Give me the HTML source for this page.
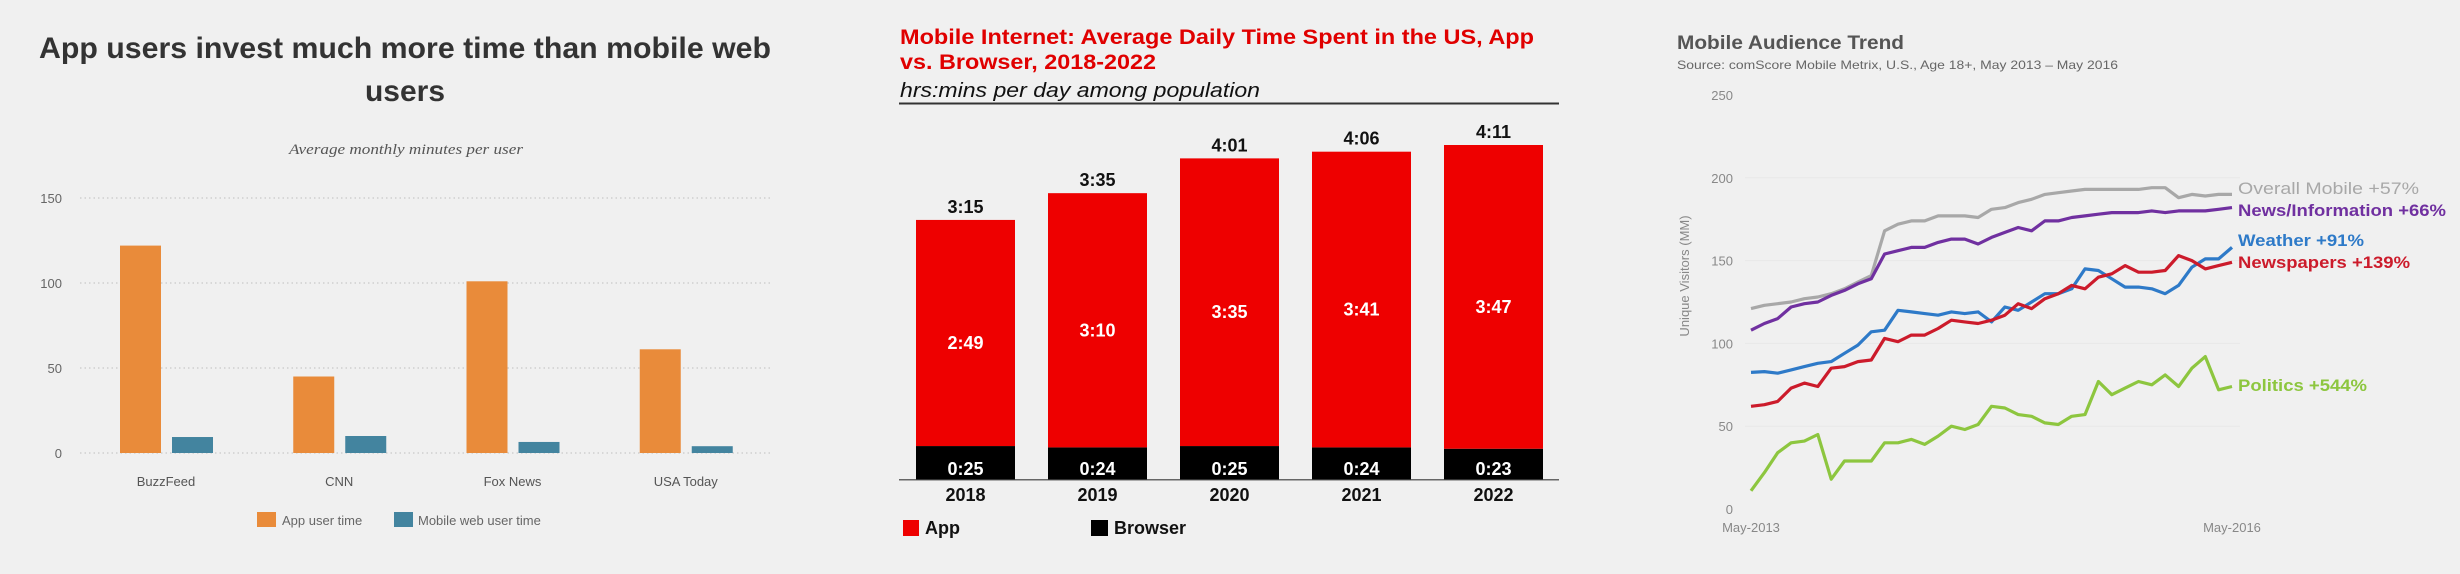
<!DOCTYPE html>
<html><head><meta charset="utf-8"><style>
html,body{margin:0;padding:0;background:#f0f0f0;}
svg{display:block;font-family:"Liberation Sans",sans-serif;}
</style></head><body>
<svg id="root" width="2460" height="574" viewBox="0 0 2460 574" xmlns="http://www.w3.org/2000/svg">
<rect width="2460" height="574" fill="#f0f0f0"/>
<!-- Chart 1 -->
<g id="c1">
<text x="405" y="58" text-anchor="middle" font-size="30" font-weight="bold" fill="#333" textLength="732" lengthAdjust="spacingAndGlyphs">App users invest much more time than mobile web</text>
<text x="405" y="101" text-anchor="middle" font-size="30" font-weight="bold" fill="#333" textLength="80" lengthAdjust="spacingAndGlyphs">users</text>
<text x="406" y="154" text-anchor="middle" font-size="15" font-style="italic" fill="#555" font-family="Liberation Serif, serif" textLength="234" lengthAdjust="spacingAndGlyphs">Average monthly minutes per user</text>
<rect x="257" y="512" width="19" height="15" fill="#e98b3a"/>
<text x="282" y="525" font-size="13" fill="#666">App user time</text>
<rect x="394" y="512" width="19" height="15" fill="#43849f"/>
<text x="418" y="525" font-size="13" fill="#666">Mobile web user time</text>
</g>
<!-- Chart 2 -->
<g id="c2">
<text x="900" y="44" font-size="21" font-weight="bold" fill="#e00000" textLength="634" lengthAdjust="spacingAndGlyphs">Mobile Internet: Average Daily Time Spent in the US, App</text>
<text x="900" y="69" font-size="21" font-weight="bold" fill="#e00000" textLength="256" lengthAdjust="spacingAndGlyphs">vs. Browser, 2018-2022</text>
<text x="900" y="97" font-size="20" font-style="italic" fill="#111" textLength="360" lengthAdjust="spacingAndGlyphs">hrs:mins per day among population</text>
<rect x="899" y="102.5" width="660" height="2" fill="#333"/>
<rect x="899" y="479" width="660" height="1.5" fill="#666"/>
<rect x="903" y="520" width="16" height="16" fill="#ee0000"/>
<text x="925" y="534" font-size="18" font-weight="bold" fill="#111">App</text>
<rect x="1091" y="520" width="17" height="16" fill="#000"/>
<text x="1114" y="534" font-size="18" font-weight="bold" fill="#111">Browser</text>
</g>
<!-- Chart 3 -->
<g id="c3">
<text x="1677" y="49" font-size="19" font-weight="bold" fill="#555" textLength="227" lengthAdjust="spacingAndGlyphs">Mobile Audience Trend</text>
<text x="1677" y="69" font-size="12" fill="#666" textLength="441" lengthAdjust="spacingAndGlyphs">Source: comScore Mobile Metrix, U.S., Age 18+, May 2013 – May 2016</text>
<text transform="translate(1689,276) rotate(-90)" text-anchor="middle" font-size="13" fill="#888">Unique Visitors (MM)</text>
</g>
</svg>
<script>
// ---------- Chart 1 data ----------
const c1Categories = ["BuzzFeed","CNN","Fox News","USA Today"];
const c1App = [122, 45, 101, 61];
const c1Web = [9.4, 10, 6.5, 4];
const c1Ticks = [0, 50, 100, 150];
// ---------- Chart 2 data ----------
const c2Years = ["2018","2019","2020","2021","2022"];
const c2App = [169, 190, 215, 221, 227];
const c2Browser = [25, 24, 25, 24, 23];
const c2AppLabels = ["2:49","3:10","3:35","3:41","3:47"];
const c2BrowserLabels = ["0:25","0:24","0:25","0:24","0:23"];
const c2TotalLabels = ["3:15","3:35","4:01","4:06","4:11"];
// ---------- Chart 3 data ----------
const c3Ticks = [0, 50, 100, 150, 200, 250];
const c3XLabels = ["May-2013","May-2016"];
const c3Names = ["Overall Mobile +57%","News/Information +66%","Weather +91%","Newspapers +139%","Politics +544%"];
const c3Overall = [121,123,124,125,127,128,130,133,137,141,168,172,174,174,177,177,177,176,181,182,185,187,190,191,192,193,193,193,193,193,194,194,188,190,189,190,190];
const c3News = [108,112,115,122,124,125,129,132,136,139,154,156,158,158,161,163,163,160,164,167,170,168,174,174,176,177,178,179,179,179,180,179,180,180,180,181,182];
const c3Weather = [82.5,83,82,84,86,88,89,94,99,107,108,120,119,118,117,119,118,119,113,122,120,125,130,130,133,145,144,139,134,134,133,130,135,146,151,151,158];
const c3Papers = [62,63,65,73,76,74,85,86,89,90,103,101,105,105,109,114,113,112,114,117,124,121,127,130,135,133,140,142,147,143,143,144,153,150,145,147,149];
const c3Politics = [11,22,34,40,41,45,18,29,29,29,40,40,42,39,44,50,48,51,62,61,57,56,52,51,56,57,77,69,73,77,75,81,74,85,92,72,74];

const NS = "http://www.w3.org/2000/svg";
function mk(parent, tag, attrs, text) {
  const e = document.createElementNS(NS, tag);
  for (const k in attrs) e.setAttribute(k, attrs[k]);
  if (text !== undefined) e.textContent = text;
  parent.appendChild(e);
  return e;
}
// ---- Chart 1 ----
(function(){
  const g = document.getElementById('c1');
  const y = v => 453 - v * (453 - 198) / 150;
  const band = 173.25, x0 = 80;
  c1Ticks.forEach(t => {
    const ln = mk(g, 'line', {x1:80, x2:773, y1:y(t), y2:y(t), stroke:'#c8c8c8', 'stroke-width':1.2, 'stroke-dasharray':'1.5,3'});
    
    
    const tx = mk(g, 'text', {x:62, y:y(t)+5, 'text-anchor':'end', 'font-size':13, fill:'#666'}, String(t));
    
    
  });
  c1Categories.forEach((c, i) => {
    const bx = x0 + i * band;
    const a = mk(g, 'rect', {x:bx+40, y:y(c1App[i]), width:41, height:y(0)-y(c1App[i]), fill:'#e98b3a'});
    
    
    const w = mk(g, 'rect', {x:bx+92, y:y(c1Web[i]), width:41, height:y(0)-y(c1Web[i]), fill:'#43849f'});
    
    
    const t = mk(g, 'text', {x:bx+86, y:486, 'text-anchor':'middle', 'font-size':13, fill:'#555'}, c);
    
    
  });
})();
// ---- Chart 2 ----
(function(){
  const g = document.getElementById('c2');
  const base = 479.5, k = 1.338;
  const y = v => base - v * k;
  c2Years.forEach((yr, i) => {
    const bx = 916 + i * 132;
    const tot = c2App[i] + c2Browser[i];
    const b = mk(g, 'rect', {x:bx, y:y(c2Browser[i]), width:99, height:base-y(c2Browser[i]), fill:'#000'});
    
    
    const a = mk(g, 'rect', {x:bx, y:y(tot), width:99, height:y(c2Browser[i])-y(tot), fill:'#ee0000'});
    
    
    const tl = mk(g, 'text', {x:bx+49.5, y:y(tot)-7, 'text-anchor':'middle', 'font-size':18, 'font-weight':'bold', fill:'#111'}, c2TotalLabels[i]);
    
    
    const al = mk(g, 'text', {x:bx+49.5, y:(y(tot)+y(c2Browser[i]))/2+16, 'text-anchor':'middle', 'font-size':18, 'font-weight':'bold', fill:'#fff'}, c2AppLabels[i]);
    
    
    const bl = mk(g, 'text', {x:bx+49.5, y:475, 'text-anchor':'middle', 'font-size':18, 'font-weight':'bold', fill:'#fff'}, c2BrowserLabels[i]);
    
    
    const xl = mk(g, 'text', {x:bx+49.5, y:501, 'text-anchor':'middle', 'font-size':18, 'font-weight':'bold', fill:'#111'}, yr);
    
    
  });
})();
// ---- Chart 3 ----
(function(){
  const g = document.getElementById('c3');
  const y = v => 509 - v * 1.656;
  const x = i => 1751 + i * (2232 - 1751) / 36;
  c3Ticks.forEach(t => {
    if (t > 0 && t < 250) {
      const ln = mk(g, 'line', {x1:1745, x2:2240, y1:y(t), y2:y(t), stroke:'#e8e8e8', 'stroke-width':1});
      
      
    }
    const tx = mk(g, 'text', {x:1733, y:y(t)+5, 'text-anchor':'end', 'font-size':13, fill:'#888'}, String(t));
    
    
  });
  const x0 = mk(g, 'text', {x:1751, y:532, 'text-anchor':'middle', 'font-size':13, fill:'#888'}, c3XLabels[0]);
  
  
  const x1 = mk(g, 'text', {x:2232, y:532, 'text-anchor':'middle', 'font-size':13, fill:'#888'}, c3XLabels[1]);
  
  
  const series = [c3Overall, c3News, c3Weather, c3Papers, c3Politics];
  const colors = ['#a8a8a8', '#7030a0', '#2e7ac8', '#cc1b2b', '#8dc63f'];
  const labelY = [188, 210, 240, 262, 385];
  const widths = [181, 208, 126, 172, 129];
  series.forEach((s, si) => {
    const d = s.map((v, i) => (i ? 'L' : 'M') + x(i).toFixed(1) + ',' + y(v).toFixed(1)).join(' ');
    const p = mk(g, 'path', {d:d, fill:'none', stroke:colors[si], 'stroke-width':3.2, 'stroke-linejoin':'round'});
    
    
    const t = mk(g, 'text', {x:2238, y:labelY[si]+6, 'font-size':17, 'font-weight': si === 0 ? 'normal' : 'bold', fill:colors[si], textLength:widths[si], lengthAdjust:'spacingAndGlyphs'}, c3Names[si]);
    
    
  });
})();
</script>
</body></html>
